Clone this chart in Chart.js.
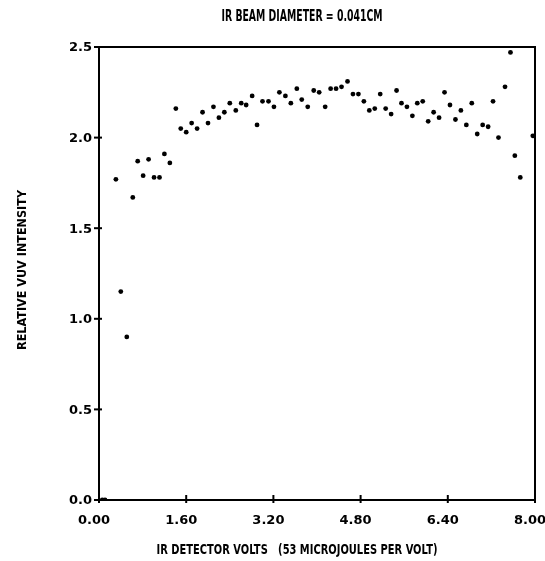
<!DOCTYPE html>
<html>
<head>
<meta charset="utf-8">
<script src="https://cdn.jsdelivr.net/npm/chart.js@4.4.1/dist/chart.umd.min.js"></script>
<style>
html,body{margin:0;padding:0;background:#fff;}
#wrap{width:545px;height:561px;position:relative;}
</style>
</head>
<body>
<div id="wrap"><canvas id="c" width="545" height="561"></canvas></div>
<script>
const titleText = "IR BEAM DIAMETER = 0.041CM";
const xTitle = "IR DETECTOR VOLTS   (53 MICROJOULES PER VOLT)";
const yTitle = "RELATIVE VUV INTENSITY";
const xTickLabels = ["0.00","1.60","3.20","4.80","6.40","8.00"];
const xTickValues = [0, 1.6, 3.2, 4.8, 6.4, 8.0];
const yTickLabels = ["0.0","0.5","1.0","1.5","2.0","2.5"];
const yTickValues = [0, 0.5, 1.0, 1.5, 2.0, 2.5];
const xVals = [0.06,0.11,0.31,0.40,0.51,0.62,0.71,0.81,0.91,1.01,1.11,1.20,1.30,1.41,1.50,1.60,1.70,1.80,
  1.90,2.00,2.10,2.20,2.30,2.40,2.51,2.61,2.70,2.81,2.90,3.00,3.11,3.21,3.31,3.42,3.52,3.63,3.72,3.83,
  3.94,4.04,4.15,4.25,4.35,4.45,4.56,4.66,4.76,4.86,4.96,5.06,5.16,5.26,5.36,5.46,5.55,5.65,5.75,
  5.84,5.94,6.04,6.14,6.24,6.34,6.44,6.54,6.64,6.74,6.84,6.94,7.04,7.14,7.23,7.33,7.45,7.55,7.63,7.73,7.96];
const yVals = [0,0,1.77,1.15,0.90,1.67,1.87,1.79,1.88,1.78,1.78,1.91,1.86,2.16,2.05,2.03,2.08,2.05,
  2.14,2.08,2.17,2.11,2.14,2.19,2.15,2.19,2.18,2.23,2.07,2.20,2.20,2.17,2.25,2.23,2.19,2.27,2.21,2.17,
  2.26,2.25,2.17,2.27,2.27,2.28,2.31,2.24,2.24,2.20,2.15,2.16,2.24,2.16,2.13,2.26,2.19,2.17,2.12,
  2.19,2.20,2.09,2.14,2.11,2.25,2.18,2.10,2.15,2.07,2.19,2.02,2.07,2.06,2.20,2.00,2.28,2.47,1.90,1.78,2.01];

const points = xVals.map((x, i) => ({x: x, y: yVals[i]}));
const FONT = 'bold 13px "DejaVu Sans"';

function fitText(ctx, text, cx, cy, targetW, font) {
  ctx.save();
  ctx.font = font;
  const w = ctx.measureText(text).width;
  const sx = targetW / w;
  ctx.translate(cx, cy);
  ctx.scale(sx, 1);
  ctx.textAlign = 'center';
  ctx.textBaseline = 'middle';
  ctx.fillText(text, 0, 0);
  ctx.restore();
}

const decor = {
  id: 'decor',
  afterDraw(chart) {
    const ctx = chart.ctx;
    const a = chart.chartArea;
    const xs = chart.scales.x, ys = chart.scales.y;
    ctx.save();
    ctx.strokeStyle = '#000';
    ctx.fillStyle = '#000';
    ctx.lineWidth = 2;
    ctx.strokeRect(a.left, a.top, a.right - a.left, a.bottom - a.top);
    xTickValues.forEach((v) => {
      const px = xs.getPixelForValue(v);
      ctx.beginPath();
      ctx.moveTo(px, a.bottom - 5);
      ctx.lineTo(px, a.bottom + 3);
      ctx.stroke();
    });
    yTickValues.forEach((v) => {
      const py = ys.getPixelForValue(v);
      ctx.beginPath();
      ctx.moveTo(a.left - 5, py);
      ctx.lineTo(a.left + 3, py);
      ctx.stroke();
    });
    ctx.font = FONT;
    ctx.textBaseline = 'middle';
    ctx.textAlign = 'right';
    yTickValues.forEach((v, i) => {
      const py = ys.getPixelForValue(v);
      ctx.fillText(yTickLabels[i], a.left - 7, py + 1);
    });
    ctx.textAlign = 'center';
    ctx.textBaseline = 'top';
    xTickValues.forEach((v, i) => {
      const px = xs.getPixelForValue(v);
      ctx.fillText(xTickLabels[i], px - 5, a.bottom + 14);
    });
    fitText(ctx, titleText, 302, 17, 161, 'bold 15px "DejaVu Sans"');
    fitText(ctx, xTitle, 297, 550, 281, 'bold 14px "DejaVu Sans"');
    ctx.save();
    ctx.translate(23, 270);
    ctx.rotate(-Math.PI / 2);
    fitText(ctx, yTitle, 0, 0, 160, 'bold 13px "DejaVu Sans"');
    ctx.restore();
    ctx.restore();
  }
};

new Chart(document.getElementById('c'), {
  type: 'scatter',
  data: {
    datasets: [{
      data: points,
      backgroundColor: '#000',
      borderColor: '#000',
      pointRadius: 2.4,
      pointHoverRadius: 2.4,
      borderWidth: 0
    }]
  },
  options: {
    responsive: false,
    animation: false,
    layout: {padding: {top: 47, right: 10, left: 0, bottom: 0}},
    plugins: {legend: {display: false}, tooltip: {enabled: false}, title: {display: false}},
    scales: {
      x: {
        type: 'linear', min: 0, max: 8,
        grid: {display: false, drawTicks: false},
        border: {display: false},
        ticks: {display: false, stepSize: 1.6},
        afterFit(s) { s.height = 61; s.paddingLeft = 0; s.paddingRight = 0; }
      },
      y: {
        type: 'linear', min: 0, max: 2.5,
        grid: {display: false, drawTicks: false},
        border: {display: false},
        ticks: {display: false, stepSize: 0.5},
        afterFit(s) { s.width = 99; s.paddingTop = 0; s.paddingBottom = 0; }
      }
    }
  },
  plugins: [decor]
});
</script>
</body>
</html>
